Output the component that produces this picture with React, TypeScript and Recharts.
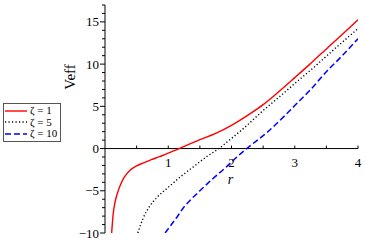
import React from 'react';
import { LineChart, Line, XAxis, YAxis, ReferenceLine, Legend } from 'recharts';

// ---- data ----
const rZeta1 = [0.105, 0.13, 0.16, 0.2, 0.25, 0.3, 0.4, 0.5, 0.6, 0.7, 0.8, 0.9, 1.0, 1.17, 1.3, 1.5, 1.75, 2.0, 2.29, 2.5, 2.71, 3.0, 3.24, 3.5, 3.75, 4.0];
const vZeta1 = [-10, -7.7, -6.3, -5.2, -4.2, -3.45, -2.55, -2.05, -1.72, -1.42, -1.12, -0.85, -0.55, 0, 0.4, 1.05, 1.8, 2.75, 4.1, 5.2, 6.5, 8.4, 10.0, 11.8, 13.5, 15.25];

const rZeta5 = [0.52, 0.6, 0.7, 0.82, 1.0, 1.2, 1.4, 1.6, 1.8, 2.0, 2.2, 2.5, 2.8, 3.0, 3.3, 3.6, 4.0];
const vZeta5 = [-10, -8.3, -6.9, -5.8, -4.6, -3.3, -2.15, -1.0, 0, 1.2, 2.45, 4.5, 6.4, 7.7, 9.6, 11.6, 14.2];

const rZeta10 = [0.95, 1.05, 1.14, 1.24, 1.35, 1.5, 1.7, 1.9, 2.1, 2.24, 2.56, 2.87, 3.08, 3.24, 3.5, 3.75, 4.0];
const vZeta10 = [-10, -9.0, -8.1, -7.0, -6.1, -5.0, -3.6, -2.3, -0.9, 0, 1.9, 4.1, 5.7, 6.9, 9.1, 11.0, 13.0];

const seriesNames = ['ζ = 1', 'ζ = 5', 'ζ = 10'];

const xTicks = [0.5, 1, 1.5, 2, 2.5, 3, 3.5, 4];
const xTickLabels: Record<string, string> = { '1': '1', '2': '2', '3': '3', '4': '4' };
const yTicks = [-10, -9, -8, -7, -6, -5, -4, -3, -2, -1, 0, 1, 2, 3, 4, 5, 6, 7, 8, 9, 10, 11, 12, 13, 14, 15, 16, 17];
const yTickLabels: Record<string, string> = { '-10': '−10', '-5': '−5', '0': '0', '5': '5', '10': '10', '15': '15' };

const xDomain: [number, number] = [0, 4];
const yDomain: [number, number] = [-10, 17];

// ---- layout ----
const W = 365;
const H = 246;
const AXIS_W = 40;
const AXIS_H = 20;
const MARGIN = { top: 5, right: 7, bottom: 13 - AXIS_H, left: 105 - AXIS_W };
const AXIS_X = MARGIN.left + AXIS_W;
const PLOT_H = H - MARGIN.top - 13;
const ZERO_Y = MARGIN.top + ((yDomain[1] - 0) / (yDomain[1] - yDomain[0])) * PLOT_H;
const FONT = "'Liberation Serif', 'Times New Roman', Times, serif";

const toPoints = (rs: number[], vs: number[]) => rs.map((r, i) => ({ r, v: vs[i] }));

const series = [
  { name: seriesNames[0], data: toPoints(rZeta1, vZeta1), color: '#ff0000', dash: undefined as string | undefined, width: 1.4 },
  { name: seriesNames[1], data: toPoints(rZeta5, vZeta5), color: '#000000', dash: '1.2 2.3', width: 1.4 },
  { name: seriesNames[2], data: toPoints(rZeta10, vZeta10), color: '#0000ff', dash: '6 3', width: 1.5 },
];

const XTick = (props: any) => {
  const { x, payload } = props;
  const label = xTickLabels[String(payload.value)];
  return (
    <g>
      <line x1={x} x2={x} y1={ZERO_Y} y2={ZERO_Y - 3} stroke="#000" strokeWidth={1} />
      {label && (
        <text x={x} y={ZERO_Y + 18} textAnchor="middle" fontSize={13} fontFamily={FONT} fill="#000">
          {label}
        </text>
      )}
    </g>
  );
};

const YTick = (props: any) => {
  const { y, payload } = props;
  const label = yTickLabels[String(payload.value)];
  const ax = AXIS_X;
  const len = label !== undefined ? 5 : 3;
  return (
    <g>
      <line x1={ax - len} x2={ax} y1={y} y2={y} stroke="#000" strokeWidth={1} />
      {label !== undefined && (
        <text x={ax - 6} y={y + 4.5} textAnchor="end" fontSize={13} fontFamily={FONT} fill="#000">
          {label}
        </text>
      )}
    </g>
  );
};

const XLabel = (props: any) => {
  const vb = props.viewBox || { x: AXIS_X, width: W - AXIS_X - MARGIN.right };
  return (
    <text x={vb.x + vb.width / 2 - 1} y={ZERO_Y + 35} textAnchor="middle" fontSize={14} fontStyle="italic" fontFamily={FONT} fill="#000">
      r
    </text>
  );
};

const YLabel = () => (
  <text
    x={75}
    y={77}
    textAnchor="middle"
    fontSize={15}
    fontFamily={FONT}
    fill="#000"
    transform="rotate(-90 75 77)"
  >
    Veff
  </text>
);

const LegendBox = () => (
  <div
    style={{
      border: '1px solid #555',
      background: '#fff',
      padding: '1px 3px 1px 1px',
      fontFamily: FONT,
      fontSize: 11,
      lineHeight: '11.5px',
    }}
  >
    {series.map((s) => (
      <div key={s.name} style={{ display: 'flex', alignItems: 'center', height: 11.5, whiteSpace: 'nowrap' }}>
        <svg width={22} height={6} style={{ display: 'block', marginRight: 3 }}>
          <line x1={0} x2={22} y1={3} y2={3} stroke={s.color} strokeWidth={s.width} strokeDasharray={s.dash} />
        </svg>
        <span style={{ color: '#000' }}>{s.name}</span>
      </div>
    ))}
  </div>
);

export default function App() {
  return (
    <div style={{ position: 'absolute', left: 0, top: 0, width: W, height: H, background: '#fff' }}>
      <LineChart width={W} height={H} margin={MARGIN}>
        <XAxis
          type="number"
          dataKey="r"
          domain={xDomain}
          ticks={xTicks}
          interval={0}
          allowDataOverflow
          axisLine={false}
          tickLine={false}
          tick={<XTick />}
          height={AXIS_H}
          label={<XLabel />}
        />
        <YAxis
          type="number"
          dataKey="v"
          domain={yDomain}
          ticks={yTicks}
          interval={0}
          allowDataOverflow
          axisLine={{ stroke: '#000', strokeWidth: 1 }}
          tickLine={false}
          tick={<YTick />}
          width={AXIS_W}
          label={<YLabel />}
        />
        <ReferenceLine y={0} stroke="#000" strokeWidth={1} />
        {series.map((s) => (
          <Line
            key={s.name}
            name={s.name}
            data={s.data}
            dataKey="v"
            type="monotone"
            stroke={s.color}
            strokeWidth={s.width}
            strokeDasharray={s.dash}
            dot={false}
            activeDot={false}
            isAnimationActive={false}
          />
        ))}
        <Legend
          layout="vertical"
          align="center"
          verticalAlign="middle"
          content={<LegendBox />}
          wrapperStyle={{ position: 'absolute', left: 3, top: 103, width: 'auto', height: 'auto' }}
        />
      </LineChart>
    </div>
  );
}
